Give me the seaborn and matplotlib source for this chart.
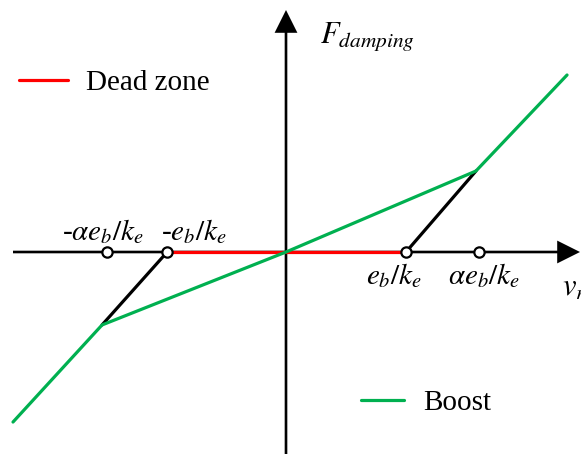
import matplotlib
matplotlib.use("Agg")
import matplotlib.pyplot as plt
import seaborn as sns
import pandas as pd
from matplotlib.lines import Line2D

sns.set_theme(style="white")
plt.rcParams["font.family"] = ["Liberation Serif", "DejaVu Serif"]
plt.rcParams["mathtext.fontset"] = "stix"
plt.rcParams["text.color"] = "black"

# Breakpoints along the velocity axis (units of e_b/k_e)
dead_zone_x = [-0.99, 1.0]
dead_zone_y = [0.0, 0.0]

black_left_x = [-0.99, -1.533]
black_left_y = [0.0, -0.608]
black_right_x = [1.0, 1.583]
black_right_y = [0.0, 0.675]

boost_x = [-2.275, -1.533, 0.0, 1.583, 2.342]
boost_y = [-1.417, -0.608, 0.0, 0.675, 1.475]

marker_x = [-1.49, -0.99, 1.0, 1.608]
marker_y = [0.0, 0.0, 0.0, 0.0]
marker_labels = [r"-$\alpha e_b/k_e$", r"-$e_b/k_e$", r"$e_b/k_e$", r"$\alpha e_b/k_e$"]

RED = "#ff0000"
GREEN = "#00b050"
LW = 2.3

fig = plt.figure(figsize=(5.81, 4.54), dpi=100)
ax = fig.add_axes([0, 0, 1, 1])
ax.set_xlim(-286 / 120, (581 - 286) / 120)
ax.set_ylim(-(454 - 252) / 120, 252 / 120)
ax.axis("off")

# Coordinate axes with arrow heads
ax.arrow(-273 / 120, 0, (580 - 13) / 120, 0, width=0.022, head_width=0.19,
         head_length=0.19, length_includes_head=True, color="black", lw=0, zorder=1)
ax.arrow(0, -(454 - 252) / 120, 0, (454 - 10) / 120, width=0.022, head_width=0.19,
         head_length=0.19, length_includes_head=True, color="black", lw=0, zorder=1)

def seg(xs, ys, color, z):
    df = pd.DataFrame({"x": xs, "y": ys})
    sns.lineplot(data=df, x="x", y="y", sort=False, color=color, lw=LW, ax=ax,
                 zorder=z, legend=False)

seg(black_left_x, black_left_y, "black", 2)
seg(black_right_x, black_right_y, "black", 2)
seg(dead_zone_x, dead_zone_y, RED, 3)
seg(boost_x, boost_y, GREEN, 4)

sns.scatterplot(x=marker_x, y=marker_y, s=55, color="white", edgecolor="black",
                linewidth=1.6, ax=ax, zorder=6, legend=False)

# Breakpoint labels
label_pos = [(103, 232), (194, 232), (394, 276), (484, 276)]
for (px, py), txt in zip(label_pos, marker_labels):
    ax.text((px - 286) / 120, (252 - py) / 120, txt, fontsize=21,
            ha="center", va="center")

ax.text((320 - 286) / 120, (252 - 43) / 120, r"$F_{damping}$", fontsize=22,
        ha="left", va="baseline")
ax.text((562 - 286) / 120, (252 - 296) / 120, r"$v_r$", fontsize=22,
        ha="left", va="baseline")

# Legends
leg1 = ax.legend(handles=[Line2D([], [], color=RED, lw=LW)], labels=["Dead zone"],
                 loc="center left", bbox_to_anchor=(19 / 581, 1 - 83 / 454),
                 bbox_transform=fig.transFigure, frameon=False, fontsize=21,
                 handlelength=1.68, handletextpad=0.62, borderpad=0, borderaxespad=0)
ax.add_artist(leg1)
ax.legend(handles=[Line2D([], [], color=GREEN, lw=LW)], labels=["Boost"],
          loc="center left", bbox_to_anchor=(361 / 581, 1 - 403 / 454),
          bbox_transform=fig.transFigure, frameon=False, fontsize=21,
          handlelength=1.47, handletextpad=0.65, borderpad=0, borderaxespad=0)

fig.savefig("out.png", dpi=100)
